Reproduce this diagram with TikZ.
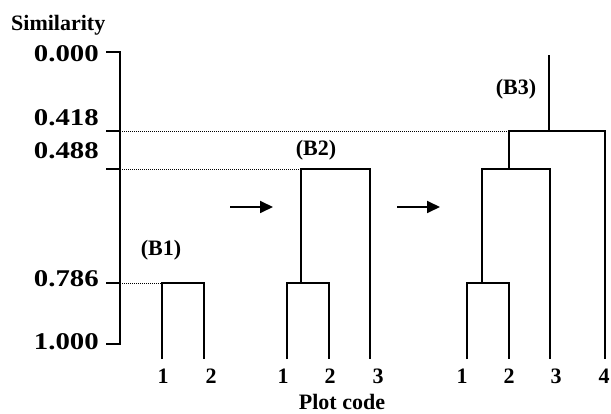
\documentclass[tikz,border=0pt]{standalone}
\usepackage{fontspec}
\usetikzlibrary{arrows.meta}
\setmainfont{Liberation Serif}
\newfontfamily\ticknumfont[FakeStretch=1.2]{Liberation Serif}
\begin{document}
\begin{tikzpicture}[x=1pt,y=-1pt,
	every node/.style={font=\bfseries\fontsize{22}{24}\selectfont,inner sep=0pt},
	branch/.style={line width=1.8pt},
	guide/.style={line width=0.8pt,dash pattern=on 0.8pt off 1.2pt},
	ticklab/.style={anchor=east,font=\ticknumfont\bfseries\fontsize{24}{26}\selectfont},
	leaflab/.style={anchor=base,font=\bfseries\fontsize{22}{24}\selectfont},
	stepper/.style={line width=1.8pt,-{Triangle[length=13pt,width=12pt]}}]
	    \useasboundingbox (0,0) rectangle (611,414);
	    \node[anchor=base west] (simtitle) at (11,31) {Similarity};
	    \draw[branch] (106,52) -- (120,52) -- (120,344) -- (106,344);
	    \foreach \y in {131,169,283} \draw[branch] (106,\y) -- (120,\y);
	    \node[ticklab] (s000) at (99,54) {0.000};
	    \node[ticklab] (s418) at (99,118) {0.418};
	    \node[ticklab] (s488) at (99,151) {0.488};
	    \node[ticklab] (s786) at (99,279) {0.786};
	    \node[ticklab] (s100) at (99,342) {1.000};
	    \draw[guide] (120,131) -- (509,131);
	    \draw[guide] (120,169) -- (301,169);
	    \draw[guide] (120,283) -- (162,283);
	    \draw[branch] (162,359) -- (162,283) -- (204,283) -- (204,359);
	    \node (bone) at (161,250) {(B1)};
	    \draw[branch] (287,359) -- (287,283) -- (329,283) -- (329,359);
	    \draw[branch] (301,283) -- (301,169) -- (370,169) -- (370,359);
	    \node (btwo) at (316,150) {(B2)};
	    \draw[branch] (467,359) -- (467,283) -- (509,283) -- (509,359);
	    \draw[branch] (482,283) -- (482,169) -- (550,169) -- (550,359);
	    \draw[branch] (509,169) -- (509,131) -- (605,131) -- (605,359);
	    \draw[branch] (549,131) -- (549,55);
	    \node (bthree) at (516,89) {(B3)};
	    \draw[stepper] (230,207) -- (273,207);
	    \draw[stepper] (397,207) -- (440,207);
	    \node[leaflab] (a1) at (163,383) {1};
	    \node[leaflab] (a2) at (211,383) {2};
	    \node[leaflab] (b1) at (283,383) {1};
	    \node[leaflab] (b2) at (330,383) {2};
	    \node[leaflab] (b3) at (378,383) {3};
	    \node[leaflab] (c1) at (462,383) {1};
	    \node[leaflab] (c2) at (509,383) {2};
	    \node[leaflab] (c3) at (556,383) {3};
	    \node[leaflab] (c4) at (604,383) {4};
	    \node[anchor=base] (plotcode) at (342,409) {Plot code};
	\end{tikzpicture}
\end{document}
